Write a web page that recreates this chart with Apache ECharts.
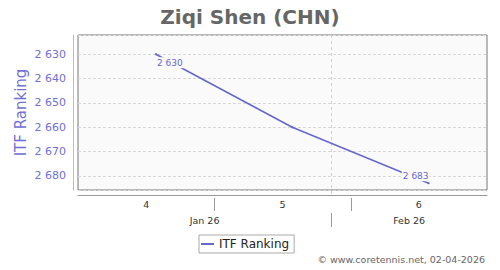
<!DOCTYPE html>
<html><head><meta charset="utf-8">
<script src="https://cdn.jsdelivr.net/npm/echarts@6/dist/echarts.min.js"></script>
<style>html,body{margin:0;padding:0;background:#fff}#c{width:500px;height:270px}</style>
</head><body><div id="c"></div>
<script>
// ---- data ----
const chartTitle = 'Ziqi Shen (CHN)';
const seriesName = 'ITF Ranking';
const dates = ['2026-01-23', '2026-01-30', '2026-02-06'];
const rankings = [2630, 2660, 2683];
const axisStart = '2026-01-19';
const axisEnd = '2026-02-09';
const weekStarts = ['2026-01-19', '2026-01-26', '2026-02-02'];
const weekLabels = ['4', '5', '6'];
const monthStarts = ['2026-01-01', '2026-02-01', '2026-03-01'];
const monthLabels = ['Jan 26', 'Feb 26'];
const yMin = 2622.1, yMax = 2685.8;
const credit = '\u00a9 www.coretennis.net, 02-04-2026';

// ---- helpers ----
const FONT = 'DejaVu Sans';
const PURPLE = '#6666cc';
const LABEL_PURPLE = '#7070d4';
function ts(s) { const p = s.split('-').map(Number); return Date.UTC(p[0], p[1] - 1, p[2]); }
function fmt(v) { return String(Math.round(v)).replace(/\B(?=(\d{3})+(?!\d))/g, ' '); }

const xMin = ts(axisStart), xMax = ts(axisEnd);
const weekData = weekStarts.map((s, i) => [ts(s), i + 1 < weekStarts.length ? ts(weekStarts[i + 1]) : xMax]);
const monthData = monthLabels.map((m, i) => [ts(monthStarts[i]), ts(monthStarts[i + 1])]);

function clampX(x, l, r) { return Math.max(l, Math.min(r, x)); }

function renderWeeks(params, api) {
  const cs = params.coordSys;
  const l = cs.x, r = cs.x + cs.width, b = cs.y + cs.height;
  const x0 = clampX(api.coord([api.value(0), yMin])[0], l, r);
  const x1 = clampX(api.coord([api.value(1), yMin])[0], l, r);
  const children = [{
    type: 'text',
    style: { text: weekLabels[params.dataIndex], x: (x0 + x1) / 2, y: b + 14.5,
      align: 'center', verticalAlign: 'middle', textAlign: 'center', textVerticalAlign: 'middle',
      fill: '#333', font: '9.5px "' + FONT + '"' }
  }];
  if (x0 > l + 0.5) {
    const xx = Math.round(x0) + 0.5;
    children.push({ type: 'line', shape: { x1: xx, y1: b + 8, x2: xx, y2: b + 21 },
      style: { stroke: '#999', lineWidth: 1 } });
  }
  return { type: 'group', children };
}

function renderMonths(params, api) {
  const cs = params.coordSys;
  const l = cs.x, r = cs.x + cs.width, t = cs.y, b = cs.y + cs.height;
  const x0 = clampX(api.coord([api.value(0), yMin])[0], l, r);
  const x1 = clampX(api.coord([api.value(1), yMin])[0], l, r);
  const children = [{
    type: 'text',
    style: { text: monthLabels[params.dataIndex], x: (x0 + x1) / 2, y: b + 30.5,
      align: 'center', verticalAlign: 'middle', textAlign: 'center', textVerticalAlign: 'middle',
      fill: '#333', font: '9.5px "' + FONT + '"' }
  }];
  if (x0 > l + 0.5) {
    const xx = Math.round(x0) + 0.5;
    children.push({ type: 'line', shape: { x1: xx, y1: t, x2: xx, y2: b + 7 },
      style: { stroke: '#d0d0d0', lineWidth: 1, lineDash: [3, 3] } });
    children.push({ type: 'line', shape: { x1: xx, y1: b + 23, x2: xx, y2: b + 37 },
      style: { stroke: '#999', lineWidth: 1 } });
  }
  return { type: 'group', children };
}

const lineData = dates.map((d, i) => {
  const item = { value: [ts(d), rankings[i]] };
  const labelBase = { show: true, color: PURPLE, fontSize: 9, fontFamily: FONT,
    backgroundColor: '#fafafa', padding: [1, 1, 0, 1], lineHeight: 10,
    formatter: p => fmt(p.value[1]) };
  if (i === 0) item.label = Object.assign({}, labelBase, { position: [1, 4], align: 'left', verticalAlign: 'top' });
  else if (i === dates.length - 1) item.label = Object.assign({}, labelBase, { position: [2, -1], align: 'right', verticalAlign: 'bottom' });
  else item.label = { show: false };
  return item;
});

const chart = echarts.init(document.getElementById('c'), null, { renderer: 'svg' });
chart.setOption({
  animation: false,
  textStyle: { fontFamily: FONT },
  title: [
    { text: chartTitle, left: 'center', top: 2,
      textStyle: { fontSize: 20, fontWeight: 'bold', color: '#666', fontFamily: FONT } },
    { text: credit, right: 10, bottom: 1,
      textStyle: { fontSize: 9.5, fontWeight: 'normal', color: '#666', fontFamily: FONT } }
  ],
  legend: {
    data: [{ name: seriesName, icon: 'rect' }],
    left: 199, top: 235, itemWidth: 13, itemHeight: 2,
    padding: [3, 5, 3, 2], borderColor: '#aaa', borderWidth: 1,
    textStyle: { fontSize: 12, color: '#222', fontFamily: FONT }
  },
  grid: { left: 78, top: 35, width: 409, height: 155, show: true,
    backgroundColor: '#fafafa', borderColor: '#777', borderWidth: 1,
    containLabel: false, outerBoundsMode: 'none' },
  xAxis: {
    type: 'time', min: xMin, max: xMax, offset: 5,
    axisLine: { show: true, lineStyle: { color: '#999', width: 1 } },
    axisTick: { show: false }, axisLabel: { show: false }, splitLine: { show: false }
  },
  yAxis: {
    type: 'value', inverse: true, min: yMin, max: yMax, minInterval: 10, maxInterval: 10,
    splitNumber: 6, offset: 5,
    axisLine: { show: true, lineStyle: { color: '#b8b8e4', width: 1 } },
    axisTick: { show: false },
    axisLabel: { color: LABEL_PURPLE, fontSize: 11, margin: 7, fontFamily: FONT,
      formatter: v => (Math.abs(v - Math.round(v / 10) * 10) < 1e-6 ? fmt(v) : '') },
    splitLine: { show: true, lineStyle: { color: '#d8d8d8', type: [3, 2] } },
    name: seriesName, nameLocation: 'middle', nameGap: 45, nameMoveOverlap: false,
    nameTextStyle: { color: LABEL_PURPLE, fontSize: 15, fontFamily: FONT }
  },
  series: [
    { type: 'custom', name: 'weeks', data: weekData, renderItem: renderWeeks, silent: true, clip: false, z: 1 },
    { type: 'custom', name: 'months', data: monthData, renderItem: renderMonths, silent: true, clip: false, z: 1 },
    { type: 'line', name: seriesName, data: lineData, symbol: 'circle', symbolSize: 2, showSymbol: true,
      itemStyle: { color: PURPLE }, lineStyle: { color: PURPLE, width: 1.5 },
      emphasis: { disabled: true }, z: 3 }
  ]
});
</script>
</body></html>
